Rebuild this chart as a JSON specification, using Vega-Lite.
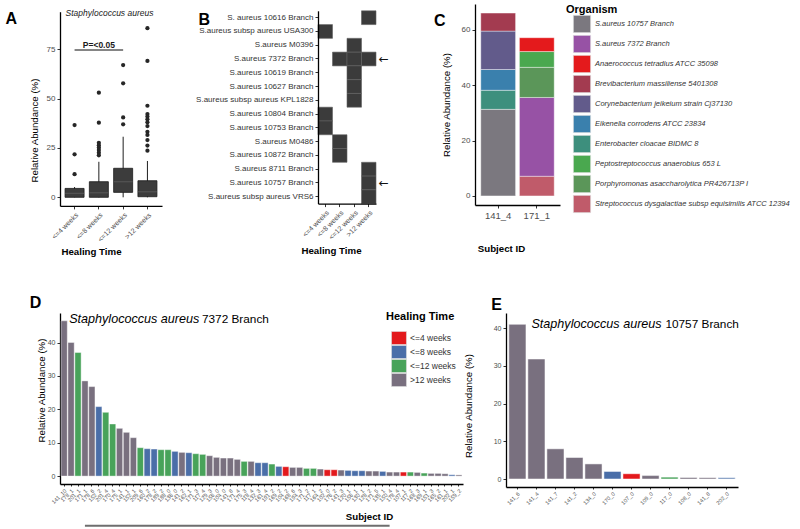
{
  "$schema": "https://vega.github.io/schema/vega-lite/v6.json",
  "background": "white",
  "padding": {"left": 5, "top": 4, "right": 2, "bottom": 1},
  "spacing": 38,
  "resolve": {"scale": {"x": "independent", "y": "independent", "color": "independent"}, "legend": {"color": "independent"}},
  "vconcat": [
    {
      "spacing": 33,
      "resolve": {"scale": {"x": "independent", "y": "independent", "color": "independent"}, "legend": {"color": "independent"}},
      "hconcat": [
        {
          "width": 102,
          "height": 201.9,
          "title": {"text": "A", "dx": -23.5, "dy": 27.3},
          "layer": [
            {
              "data": {"values": [
                {"g": "<=4 weeks", "lo": 0, "q1": 0, "med": 2.0, "q3": 4.5, "hi": 5.2},
                {"g": "<=8 weeks", "lo": 0, "q1": 0, "med": 2.3, "q3": 7.9, "hi": 18.0},
                {"g": "<=12 weeks", "lo": 0, "q1": 2.5, "med": 7.9, "q3": 14.7, "hi": 30.7},
                {"g": ">12 weeks", "lo": 0, "q1": 0.3, "med": 2.8, "q3": 8.4, "hi": 18.4}
              ]},
              "layer": [
                {
                  "mark": {"type": "rule", "color": "#1f1f1f", "strokeWidth": 1},
                  "encoding": {
                    "x": {"field": "g", "type": "nominal", "title": "Healing Time",
                      "scale": {"domain": ["<=4 weeks", "<=8 weeks", "<=12 weeks", ">12 weeks"], "paddingInner": 0, "paddingOuter": 0.1},
                      "axis": {"labelAngle": -45, "labelFontSize": 7, "titleFontWeight": "bold", "titleX": 31, "titlePadding": 4}},
                    "y": {"field": "lo", "type": "quantitative", "title": "Relative Abundance (%)",
                      "scale": {"domain": [-4.36, 94.07], "range": [201.9, 7.7], "nice": false, "zero": false},
                      "axis": {"values": [0, 25, 50, 75], "titleY": 126, "titlePadding": 7}},
                    "y2": {"field": "hi"}
                  }
                },
                {
                  "mark": {"type": "bar", "width": 19, "fill": "#3c3c3c", "stroke": "#1a1a1a", "strokeWidth": 0.8},
                  "encoding": {
                    "x": {"field": "g", "type": "nominal", "title": "Healing Time"},
                    "y": {"field": "q1", "type": "quantitative", "title": "Relative Abundance (%)"},
                    "y2": {"field": "q3"}
                  }
                },
                {
                  "mark": {"type": "tick", "color": "#5e5e5e", "size": 19, "thickness": 1.2},
                  "encoding": {
                    "x": {"field": "g", "type": "nominal", "title": "Healing Time"},
                    "y": {"field": "med", "type": "quantitative", "title": "Relative Abundance (%)"}
                  }
                }
              ]
            },
            {
              "data": {"values": [
                {"g": "<=4 weeks", "v": 36.6}, {"g": "<=4 weeks", "v": 21.8}, {"g": "<=4 weeks", "v": 11.7},
                {"g": "<=8 weeks", "v": 53.0}, {"g": "<=8 weeks", "v": 37.8}, {"g": "<=8 weeks", "v": 27.6},
                {"g": "<=8 weeks", "v": 26.4}, {"g": "<=8 weeks", "v": 25.2}, {"g": "<=8 weeks", "v": 24.0},
                {"g": "<=8 weeks", "v": 22.6}, {"g": "<=8 weeks", "v": 21.3},
                {"g": "<=12 weeks", "v": 67.0}, {"g": "<=12 weeks", "v": 57.8}, {"g": "<=12 weeks", "v": 40.5}, {"g": "<=12 weeks", "v": 37.0},
                {"g": ">12 weeks", "v": 85.7}, {"g": ">12 weeks", "v": 69.1}, {"g": ">12 weeks", "v": 46.4},
                {"g": ">12 weeks", "v": 42.2}, {"g": ">12 weeks", "v": 40.9}, {"g": ">12 weeks", "v": 39.5},
                {"g": ">12 weeks", "v": 38.0}, {"g": ">12 weeks", "v": 36.1}, {"g": ">12 weeks", "v": 33.2},
                {"g": ">12 weeks", "v": 31.6}, {"g": ">12 weeks", "v": 29.0}, {"g": ">12 weeks", "v": 26.2},
                {"g": ">12 weeks", "v": 23.6}
              ]},
              "mark": {"type": "point", "filled": true, "size": 18, "color": "#262626", "opacity": 1},
              "encoding": {
                "x": {"field": "g", "type": "nominal", "title": "Healing Time"},
                "y": {"field": "v", "type": "quantitative", "title": "Relative Abundance (%)"}
              }
            },
            {
              "data": {"values": [{}]},
              "mark": {"type": "rule", "color": "#858585", "strokeWidth": 2},
              "encoding": {
                "x": {"datum": "<=4 weeks"},
                "x2": {"datum": "<=12 weeks"},
                "y": {"datum": 74.6}
              }
            },
            {
              "data": {"values": [{}]},
              "mark": {"type": "text", "text": "P=<0.05", "fontSize": 8.5, "fontWeight": "bold", "color": "#1a1a1a", "baseline": "middle"},
              "encoding": {
                "x": {"datum": "<=8 weeks"},
                "y": {"datum": 77.4}
              }
            },
            {
              "data": {"values": [{}]},
              "mark": {"type": "text", "text": "Staphylococcus aureus", "fontSize": 8.5, "fontStyle": "italic", "color": "#1a1a1a", "align": "left", "baseline": "middle", "dx": -9},
              "encoding": {
                "x": {"datum": "<=4 weeks"},
                "y": {"datum": 93.3}
              }
            }
          ]
        },
        {
          "spacing": 45,
          "resolve": {"scale": {"x": "independent", "y": "independent", "color": "independent"}, "legend": {"color": "independent"}},
          "hconcat": [
            {
              "width": 58,
              "height": 199.6,
              "title": {"text": "B", "dx": 3, "dy": 27.6},
              "layer": [
                {
                  "data": {"values": [
                    {"s": "S. aureus 10616 Branch", "g": ">12 weeks"},
                    {"s": "S.aureus subsp aureus USA300", "g": "<=4 weeks"},
                    {"s": "S.aureus M0396", "g": "<=12 weeks"},
                    {"s": "S.aureus 7372 Branch", "g": "<=8 weeks"},
                    {"s": "S.aureus 7372 Branch", "g": "<=12 weeks"},
                    {"s": "S.aureus 7372 Branch", "g": ">12 weeks"},
                    {"s": "S.aureus 10619 Branch", "g": "<=12 weeks"},
                    {"s": "S.aureus 10627 Branch", "g": "<=12 weeks"},
                    {"s": "S.aureus subsp aureus KPL1828", "g": "<=12 weeks"},
                    {"s": "S.aureus 10804 Branch", "g": "<=4 weeks"},
                    {"s": "S.aureus 10753 Branch", "g": "<=4 weeks"},
                    {"s": "S.aureus M0486", "g": "<=8 weeks"},
                    {"s": "S.aureus 10872 Branch", "g": "<=8 weeks"},
                    {"s": "S.aureus 8711 Branch", "g": ">12 weeks"},
                    {"s": "S.aureus 10757 Branch", "g": ">12 weeks"},
                    {"s": "S.aureus subsp aureus VRS6", "g": ">12 weeks"}
                  ]},
                  "mark": {"type": "rect", "fill": "#3b3b3b", "stroke": "#626262", "strokeWidth": 0.6},
                  "encoding": {
                    "x": {"field": "g", "type": "nominal", "title": "Healing Time",
                      "scale": {"domain": ["<=4 weeks", "<=8 weeks", "<=12 weeks", ">12 weeks"], "paddingInner": 0, "paddingOuter": 0},
                      "axis": {"labelAngle": -45, "labelFontSize": 7, "titleFontWeight": "bold", "titleX": 13, "titlePadding": 5}},
                    "y": {"field": "s", "type": "nominal", "title": null,
                      "scale": {"domain": ["S. aureus 10616 Branch", "S.aureus subsp aureus USA300", "S.aureus M0396", "S.aureus 7372 Branch", "S.aureus 10619 Branch", "S.aureus 10627 Branch", "S.aureus subsp aureus KPL1828", "S.aureus 10804 Branch", "S.aureus 10753 Branch", "S.aureus M0486", "S.aureus 10872 Branch", "S.aureus 8711 Branch", "S.aureus 10757 Branch", "S.aureus subsp aureus VRS6"], "range": [6.8, 199.6], "paddingInner": 0, "paddingOuter": 0},
                      "axis": {"labelColor": "#333333", "labelFontSize": 8, "labelLimit": 220}}
                  }
                },
                {
                  "data": {"values": [{"s": "S.aureus 7372 Branch"}, {"s": "S.aureus 10757 Branch"}]},
                  "mark": {"type": "text", "text": "←", "font": "DejaVu Sans", "fontSize": 12, "dx": 15, "align": "center", "baseline": "middle", "color": "#111111"},
                  "encoding": {
                    "x": {"datum": ">12 weeks"},
                    "y": {"field": "s", "type": "nominal", "title": null}
                  }
                }
              ]
            },
            {
              "width": 85,
              "height": 201,
              "title": {"text": "C", "dx": -7, "dy": 29.1},
              "data": {"values": [
                {"subject": "141_4", "org": "S.aureus 10757 Branch", "pct": 31.3, "stk": 1},
                {"subject": "141_4", "org": "Enterobacter cloacae BIDMC 8", "pct": 6.9, "stk": 2},
                {"subject": "141_4", "org": "Eikenella corrodens ATCC 23834", "pct": 7.5, "stk": 3},
                {"subject": "141_4", "org": "Corynebacterium jeikeium strain Cj37130", "pct": 13.9, "stk": 4},
                {"subject": "141_4", "org": "Brevibacterium massiliense 5401308", "pct": 6.5, "stk": 5},
                {"subject": "171_1", "org": "Streptococcus dysgalactiae subsp equisimilis ATCC 12394", "pct": 7.1, "stk": 1},
                {"subject": "171_1", "org": "S.aureus 7372 Branch", "pct": 28.5, "stk": 2},
                {"subject": "171_1", "org": "Porphyromonas asaccharolytica PR426713P I", "pct": 10.9, "stk": 3},
                {"subject": "171_1", "org": "Peptostreptococcus anaerobius 653 L", "pct": 5.7, "stk": 4},
                {"subject": "171_1", "org": "Anaerococcus tetradius ATCC 35098", "pct": 5.0, "stk": 5}
              ]},
              "mark": {"type": "bar", "stroke": "#ffffff", "strokeWidth": 0.4},
              "encoding": {
                "x": {"field": "subject", "type": "nominal", "title": "Subject ID",
                  "scale": {"domain": ["141_4", "171_1"], "paddingInner": 0.1, "paddingOuter": 0.15},
                  "axis": {"labelAngle": 0, "labelFontSize": 9.5, "titleFontWeight": "bold", "titleX": 26, "titlePadding": 24}},
                "y": {"field": "pct", "type": "quantitative", "stack": "zero", "title": "Relative Abundance (%)",
                  "scale": {"domain": [-3.3, 69.4], "nice": false, "zero": false},
                  "axis": {"values": [0, 20, 40, 60], "titlePadding": 10}},
                "color": {"field": "org", "type": "nominal", "title": "Organism",
                  "scale": {
                    "domain": ["S.aureus 10757 Branch", "S.aureus 7372 Branch", "Anaerococcus tetradius ATCC 35098", "Brevibacterium massiliense 5401308", "Corynebacterium jeikeium strain Cj37130", "Eikenella corrodens ATCC 23834", "Enterobacter cloacae BIDMC 8", "Peptostreptococcus anaerobius 653 L", "Porphyromonas asaccharolytica PR426713P I", "Streptococcus dysgalactiae subsp equisimilis ATCC 12394"],
                    "range": ["#7b787f", "#9752a5", "#e41a1c", "#a33b50", "#625b8b", "#3a80ad", "#3d8f7d", "#4aa84f", "#5b9659", "#c05b6a"]
                  },
                  "legend": {"orient": "right", "offset": 6, "padding": 0, "titleFontSize": 11, "titleFontWeight": "bold", "titleColor": "#000000", "titlePadding": 0, "labelFontSize": 7.5, "labelFontStyle": "italic", "labelColor": "#333333", "labelLimit": 300, "symbolType": "square", "symbolSize": 296, "symbolStrokeColor": "#dddddd", "symbolStrokeWidth": 0.6, "symbolOffset": 7, "labelOffset": 4, "rowPadding": 0, "symbolFillOpacity": 1}},
                "order": {"field": "stk", "type": "quantitative"}
              }
            }
          ]
        }
      ]
    },
    {
      "spacing": 0,
      "resolve": {"scale": {"x": "independent", "y": "independent", "color": "independent"}, "legend": {"color": "independent"}},
      "hconcat": [
        {
          "width": 403,
          "height": 171,
          "title": {"text": "D", "dx": -6.5, "offset": 0},
          "layer": [
            {
              "data": {"values": [
                {"id": "141_10", "pct": 46.5, "ht": ">12 weeks"},
                {"id": "178_1", "pct": 40.0, "ht": ">12 weeks"},
                {"id": "201_1", "pct": 37.0, "ht": "<=12 weeks"},
                {"id": "171_1", "pct": 28.5, "ht": ">12 weeks"},
                {"id": "178_6", "pct": 26.8, "ht": ">12 weeks"},
                {"id": "152_2", "pct": 20.8, "ht": "<=8 weeks"},
                {"id": "201_4", "pct": 19.1, "ht": "<=12 weeks"},
                {"id": "170_4", "pct": 15.6, "ht": "<=12 weeks"},
                {"id": "175_1", "pct": 14.3, "ht": ">12 weeks"},
                {"id": "141_1", "pct": 13.1, "ht": ">12 weeks"},
                {"id": "152_1", "pct": 11.5, "ht": ">12 weeks"},
                {"id": "209_6", "pct": 8.5, "ht": "<=12 weeks"},
                {"id": "160_2", "pct": 8.2, "ht": "<=8 weeks"},
                {"id": "178_2", "pct": 8.1, "ht": "<=8 weeks"},
                {"id": "189_2", "pct": 7.9, "ht": "<=12 weeks"},
                {"id": "188_0", "pct": 7.9, "ht": "<=12 weeks"},
                {"id": "136_0", "pct": 7.4, "ht": "<=8 weeks"},
                {"id": "141_2", "pct": 7.1, "ht": ">12 weeks"},
                {"id": "162_1", "pct": 7.0, "ht": "<=8 weeks"},
                {"id": "171_3", "pct": 6.7, "ht": "<=12 weeks"},
                {"id": "117_4", "pct": 6.5, "ht": "<=12 weeks"},
                {"id": "129_3", "pct": 6.1, "ht": ">12 weeks"},
                {"id": "156_0", "pct": 5.6, "ht": ">12 weeks"},
                {"id": "104_0", "pct": 5.4, "ht": ">12 weeks"},
                {"id": "141_8", "pct": 5.4, "ht": ">12 weeks"},
                {"id": "171_4", "pct": 5.0, "ht": ">12 weeks"},
                {"id": "175_3", "pct": 4.4, "ht": "<=12 weeks"},
                {"id": "118_4", "pct": 4.4, "ht": ">12 weeks"},
                {"id": "132_3", "pct": 4.0, "ht": "<=8 weeks"},
                {"id": "161_4", "pct": 4.0, "ht": "<=8 weeks"},
                {"id": "191_2", "pct": 3.6, "ht": "<=12 weeks"},
                {"id": "169_2", "pct": 2.9, "ht": "<=8 weeks"},
                {"id": "104_2", "pct": 2.8, "ht": "<=4 weeks"},
                {"id": "168_6", "pct": 2.6, "ht": ">12 weeks"},
                {"id": "194_3", "pct": 2.6, "ht": ">12 weeks"},
                {"id": "171_2", "pct": 2.3, "ht": "<=12 weeks"},
                {"id": "117_1", "pct": 2.3, "ht": "<=12 weeks"},
                {"id": "164_2", "pct": 2.1, "ht": ">12 weeks"},
                {"id": "102_0", "pct": 1.9, "ht": "<=4 weeks"},
                {"id": "176_2", "pct": 1.9, "ht": "<=4 weeks"},
                {"id": "141_3", "pct": 1.8, "ht": ">12 weeks"},
                {"id": "120_1", "pct": 1.7, "ht": "<=8 weeks"},
                {"id": "156_1", "pct": 1.6, "ht": "<=8 weeks"},
                {"id": "130_1", "pct": 1.6, "ht": "<=8 weeks"},
                {"id": "128_2", "pct": 1.5, "ht": ">12 weeks"},
                {"id": "171_5", "pct": 1.5, "ht": ">12 weeks"},
                {"id": "135_1", "pct": 1.4, "ht": "<=8 weeks"},
                {"id": "150_4", "pct": 1.2, "ht": ">12 weeks"},
                {"id": "178_4", "pct": 1.2, "ht": ">12 weeks"},
                {"id": "107_1", "pct": 1.2, "ht": "<=4 weeks"},
                {"id": "117_2", "pct": 1.2, "ht": "<=12 weeks"},
                {"id": "168_3", "pct": 1.1, "ht": ">12 weeks"},
                {"id": "169_1", "pct": 0.9, "ht": "<=12 weeks"},
                {"id": "151_3", "pct": 0.8, "ht": ">12 weeks"},
                {"id": "165_2", "pct": 0.8, "ht": ">12 weeks"},
                {"id": "161_1", "pct": 0.7, "ht": ">12 weeks"},
                {"id": "202_1", "pct": 0.4, "ht": "<=8 weeks"},
                {"id": "159_2", "pct": 0.35, "ht": ">12 weeks"}
              ]},
              "mark": {"type": "bar", "stroke": "#ffffff", "strokeWidth": 0.4},
              "encoding": {
                "x": {"field": "id", "type": "nominal", "sort": null, "title": "Subject ID",
                  "scale": {"paddingInner": 0.1, "paddingOuter": 0.15},
                  "axis": {"labelAngle": -45, "labelFontSize": 5.5, "labelOverlap": false, "titleFontWeight": "bold", "titleX": 309, "titlePadding": 7, "tickSize": 2}},
                "y": {"field": "pct", "type": "quantitative", "title": "Relative Abundance (%)",
                  "scale": {"domain": [-2.37, 48.84], "nice": false, "zero": false},
                  "axis": {"values": [0, 10, 20, 30, 40], "labelFontSize": 7, "titlePadding": 1, "titleY": 77}},
                "color": {"field": "ht", "type": "nominal", "title": "Healing Time",
                  "scale": {"domain": ["<=4 weeks", "<=8 weeks", "<=12 weeks", ">12 weeks"], "range": ["#e3191c", "#4a6ea8", "#48a35a", "#79707f"]},
                  "legend": {"orient": "none", "legendX": 326, "legendY": -2, "padding": 0, "titleFontSize": 11, "titleFontWeight": "bold", "titleColor": "#000000", "titlePadding": 9, "labelFontSize": 8.5, "labelColor": "#333333", "symbolType": "M-1.15,-1L1.15,-1L1.15,1L-1.15,1Z", "symbolSize": 169, "symbolStrokeColor": "#dddddd", "symbolStrokeWidth": 0.6, "symbolOffset": 6, "labelOffset": 4, "rowPadding": 0, "clipHeight": 14, "symbolFillOpacity": 1}}
              }
            },
            {
              "data": {"values": [{}]},
              "mark": {"type": "text", "text": "Staphylococcus aureus", "fontSize": 12.6, "fontStyle": "italic", "align": "left", "baseline": "middle", "dx": 5, "color": "#000000"},
              "encoding": {"x": {"datum": "141_10"}, "y": {"datum": 46.9}}
            },
            {
              "data": {"values": [{}]},
              "mark": {"type": "text", "text": "7372 Branch", "fontSize": 11.8, "align": "left", "baseline": "middle", "dx": 137.8, "color": "#000000"},
              "encoding": {"x": {"datum": "141_10"}, "y": {"datum": 46.9}}
            },
            {
              "data": {"values": [{}]},
              "mark": {"type": "rule", "color": "#6e6e6e", "strokeWidth": 2},
              "encoding": {"x": {"datum": "171_1"}, "x2": {"datum": "150_4"}, "y": {"datum": -14.9}}
            }
          ]
        },
        {
          "width": 232,
          "height": 174,
          "title": {"text": "E", "dx": 28, "offset": 0},
          "layer": [
            {
              "data": {"values": [
                {"id": "141_6", "pct": 41.0, "ht": ">12 weeks"},
                {"id": "141_4", "pct": 31.8, "ht": ">12 weeks"},
                {"id": "141_7", "pct": 8.0, "ht": ">12 weeks"},
                {"id": "141_2", "pct": 5.7, "ht": ">12 weeks"},
                {"id": "134_0", "pct": 4.0, "ht": ">12 weeks"},
                {"id": "170_0", "pct": 2.0, "ht": "<=8 weeks"},
                {"id": "107_0", "pct": 1.4, "ht": "<=4 weeks"},
                {"id": "109_0", "pct": 0.9, "ht": ">12 weeks"},
                {"id": "117_0", "pct": 0.5, "ht": "<=12 weeks"},
                {"id": "108_0", "pct": 0.4, "ht": ">12 weeks"},
                {"id": "141_8", "pct": 0.35, "ht": ">12 weeks"},
                {"id": "202_0", "pct": 0.3, "ht": "<=8 weeks"}
              ]},
              "mark": {"type": "bar", "stroke": "#ffffff", "strokeWidth": 0.5},
              "encoding": {
                "x": {"field": "id", "type": "nominal", "sort": null, "title": null,
                  "scale": {"paddingInner": 0.1, "paddingOuter": 0.15},
                  "axis": {"labelAngle": -45, "labelFontSize": 5.5, "labelOverlap": false, "tickSize": 2}},
                "y": {"field": "pct", "type": "quantitative", "title": "Relative Abundance (%)",
                  "scale": {"domain": [-2.12, 44.0], "nice": false, "zero": false},
                  "axis": {"values": [0, 10, 20, 30, 40], "labelFontSize": 7, "titlePadding": 20, "titleY": 92.5}},
                "color": {"field": "ht", "type": "nominal", "legend": null,
                  "scale": {"domain": ["<=4 weeks", "<=8 weeks", "<=12 weeks", ">12 weeks"], "range": ["#e3191c", "#4a6ea8", "#48a35a", "#79707f"]}}
              }
            },
            {
              "data": {"values": [{}]},
              "mark": {"type": "text", "text": "Staphylococcus aureus", "fontSize": 12.6, "fontStyle": "italic", "align": "left", "baseline": "middle", "dx": -5, "color": "#000000"},
              "encoding": {"x": {"datum": "141_4"}, "y": {"datum": 41.1}}
            },
            {
              "data": {"values": [{}]},
              "mark": {"type": "text", "text": "10757 Branch", "fontSize": 11.8, "align": "left", "baseline": "middle", "dx": 129, "color": "#000000"},
              "encoding": {"x": {"datum": "141_4"}, "y": {"datum": 41.1}}
            }
          ]
        }
      ]
    }
  ],
  "config": {
    "view": {"stroke": null},
    "font": "Liberation Sans",
    "title": {"fontSize": 16, "fontWeight": "bold", "anchor": "start", "frame": "bounds", "baseline": "alphabetic", "offset": 0, "color": "#000000"},
    "axis": {"grid": false, "domainColor": "#000000", "domainWidth": 1.3, "tickColor": "#333333", "tickSize": 3, "tickWidth": 1, "labelColor": "#4d4d4d", "labelFontSize": 8, "labelPadding": 2, "titleColor": "#000000", "titleFontSize": 9.7, "titleFontWeight": "normal"}
  }
}
